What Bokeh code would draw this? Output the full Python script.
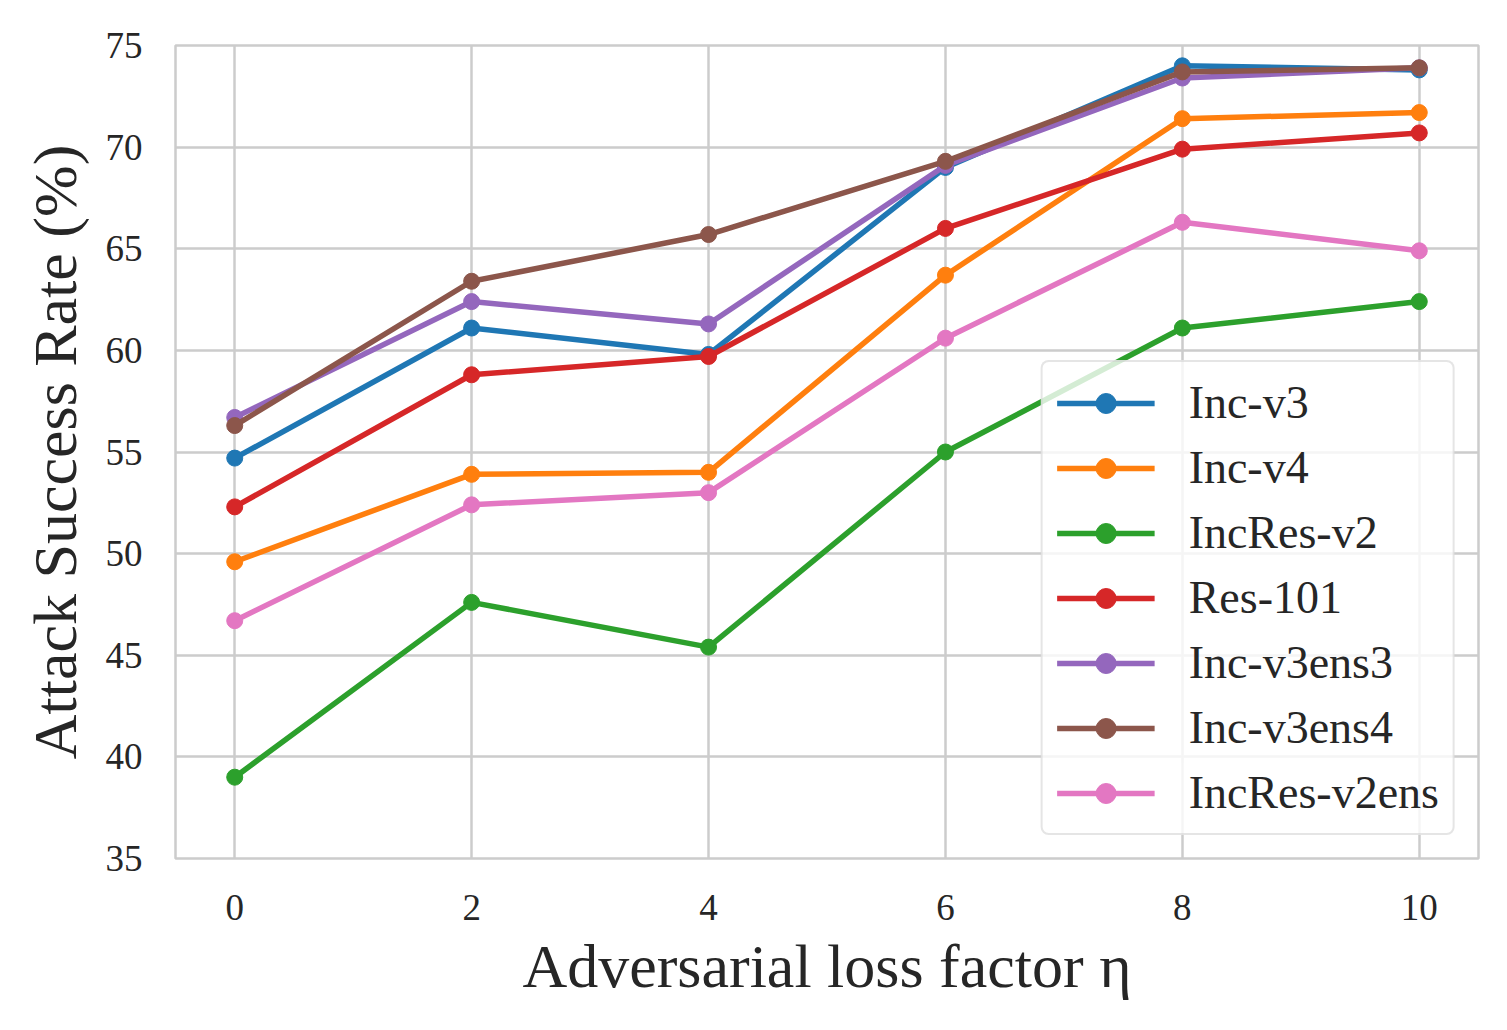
from bokeh.plotting import figure
from bokeh.models import Legend, LegendItem, FixedTicker, Range1d
from bokeh.embed import file_html
from bokeh.resources import INLINE

eta = [0, 2, 4, 6, 8, 10]
names = ["Inc-v3", "Inc-v4", "IncRes-v2", "Res-101", "Inc-v3ens3", "Inc-v3ens4", "IncRes-v2ens"]
inc_v3 = [54.7, 61.1, 59.8, 69.0, 74.0, 73.8]
inc_v4 = [49.6, 53.9, 54.0, 63.7, 71.4, 71.7]
incres_v2 = [39.0, 47.6, 45.4, 55.0, 61.1, 62.4]
res_101 = [52.3, 58.8, 59.7, 66.0, 69.9, 70.7]
inc_v3ens3 = [56.7, 62.4, 61.3, 69.1, 73.4, 73.9]
inc_v3ens4 = [56.3, 63.4, 65.7, 69.3, 73.7, 73.9]
incres_v2ens = [46.7, 52.4, 53.0, 60.6, 66.3, 64.9]
series = [inc_v3, inc_v4, incres_v2, res_101, inc_v3ens3, inc_v3ens4, incres_v2ens]
colors = ["#1f77b4", "#ff7f0e", "#2ca02c", "#d62728", "#9467bd", "#8c564b", "#e377c2"]
x_ticks = [0, 2, 4, 6, 8, 10]
y_ticks = [35, 40, 45, 50, 55, 60, 65, 70, 75]

FONT = "Liberation Serif"
W, H = 1498, 1018

p = figure(width=W, height=H, output_backend="svg", toolbar_location=None,
           x_range=Range1d(-0.5, 10.5), y_range=Range1d(35, 75),
           min_border_left=175, min_border_right=20, min_border_top=45, min_border_bottom=160)

p.outline_line_color = "#cccccc"
p.outline_line_width = 2.5
p.background_fill_color = "white"
p.border_fill_color = "white"

for ax in (p.xaxis[0], p.yaxis[0]):
    ax.axis_line_color = None
    ax.major_tick_line_color = None
    ax.minor_tick_line_color = None
    ax.major_label_text_font = FONT
    ax.major_label_text_font_size = "37px"
    ax.major_label_text_color = "#262626"
    ax.axis_label_text_font = FONT
    ax.axis_label_text_font_size = "62px"
    ax.axis_label_text_font_style = "normal"
    ax.axis_label_text_color = "#262626"

p.xaxis.ticker = FixedTicker(ticks=x_ticks)
p.yaxis.ticker = FixedTicker(ticks=y_ticks)
p.xaxis.major_label_standoff = 30
p.yaxis.major_label_standoff = 27
p.xaxis.axis_label = "Adversarial loss factor η"
p.yaxis.axis_label = "Attack Success Rate (%)"
p.xaxis.axis_label_standoff = 9
p.yaxis.axis_label_standoff = 14

p.xgrid.ticker = FixedTicker(ticks=x_ticks)
p.ygrid.ticker = FixedTicker(ticks=y_ticks)
for g in (p.xgrid[0], p.ygrid[0]):
    g.grid_line_color = "#cccccc"
    g.grid_line_width = 2.5

items = []
for name, ys, c in zip(names, series, colors):
    l = p.line(eta, ys, line_color=c, line_width=5.5)
    s = p.scatter(eta, ys, size=16, fill_color=c, line_color=c)
    items.append(LegendItem(label=name, renderers=[l, s]))

legend = Legend(items=items, location="bottom_right")
legend.label_text_font = FONT
legend.label_text_font_size = "46px"
legend.label_text_color = "#262626"
legend.glyph_width = 98
legend.glyph_height = 50
legend.label_height = 50
legend.label_standoff = 34
legend.spacing = 12
legend.padding = 14
legend.margin = 23
legend.border_line_color = "#cccccc"
legend.border_line_width = 2.5
legend.background_fill_color = "white"
legend.background_fill_alpha = 0.8
if "border_radius" in legend.properties():
    legend.border_radius = 8
p.add_layout(legend, "center")

open("out.html", "w").write(file_html(p, INLINE))
